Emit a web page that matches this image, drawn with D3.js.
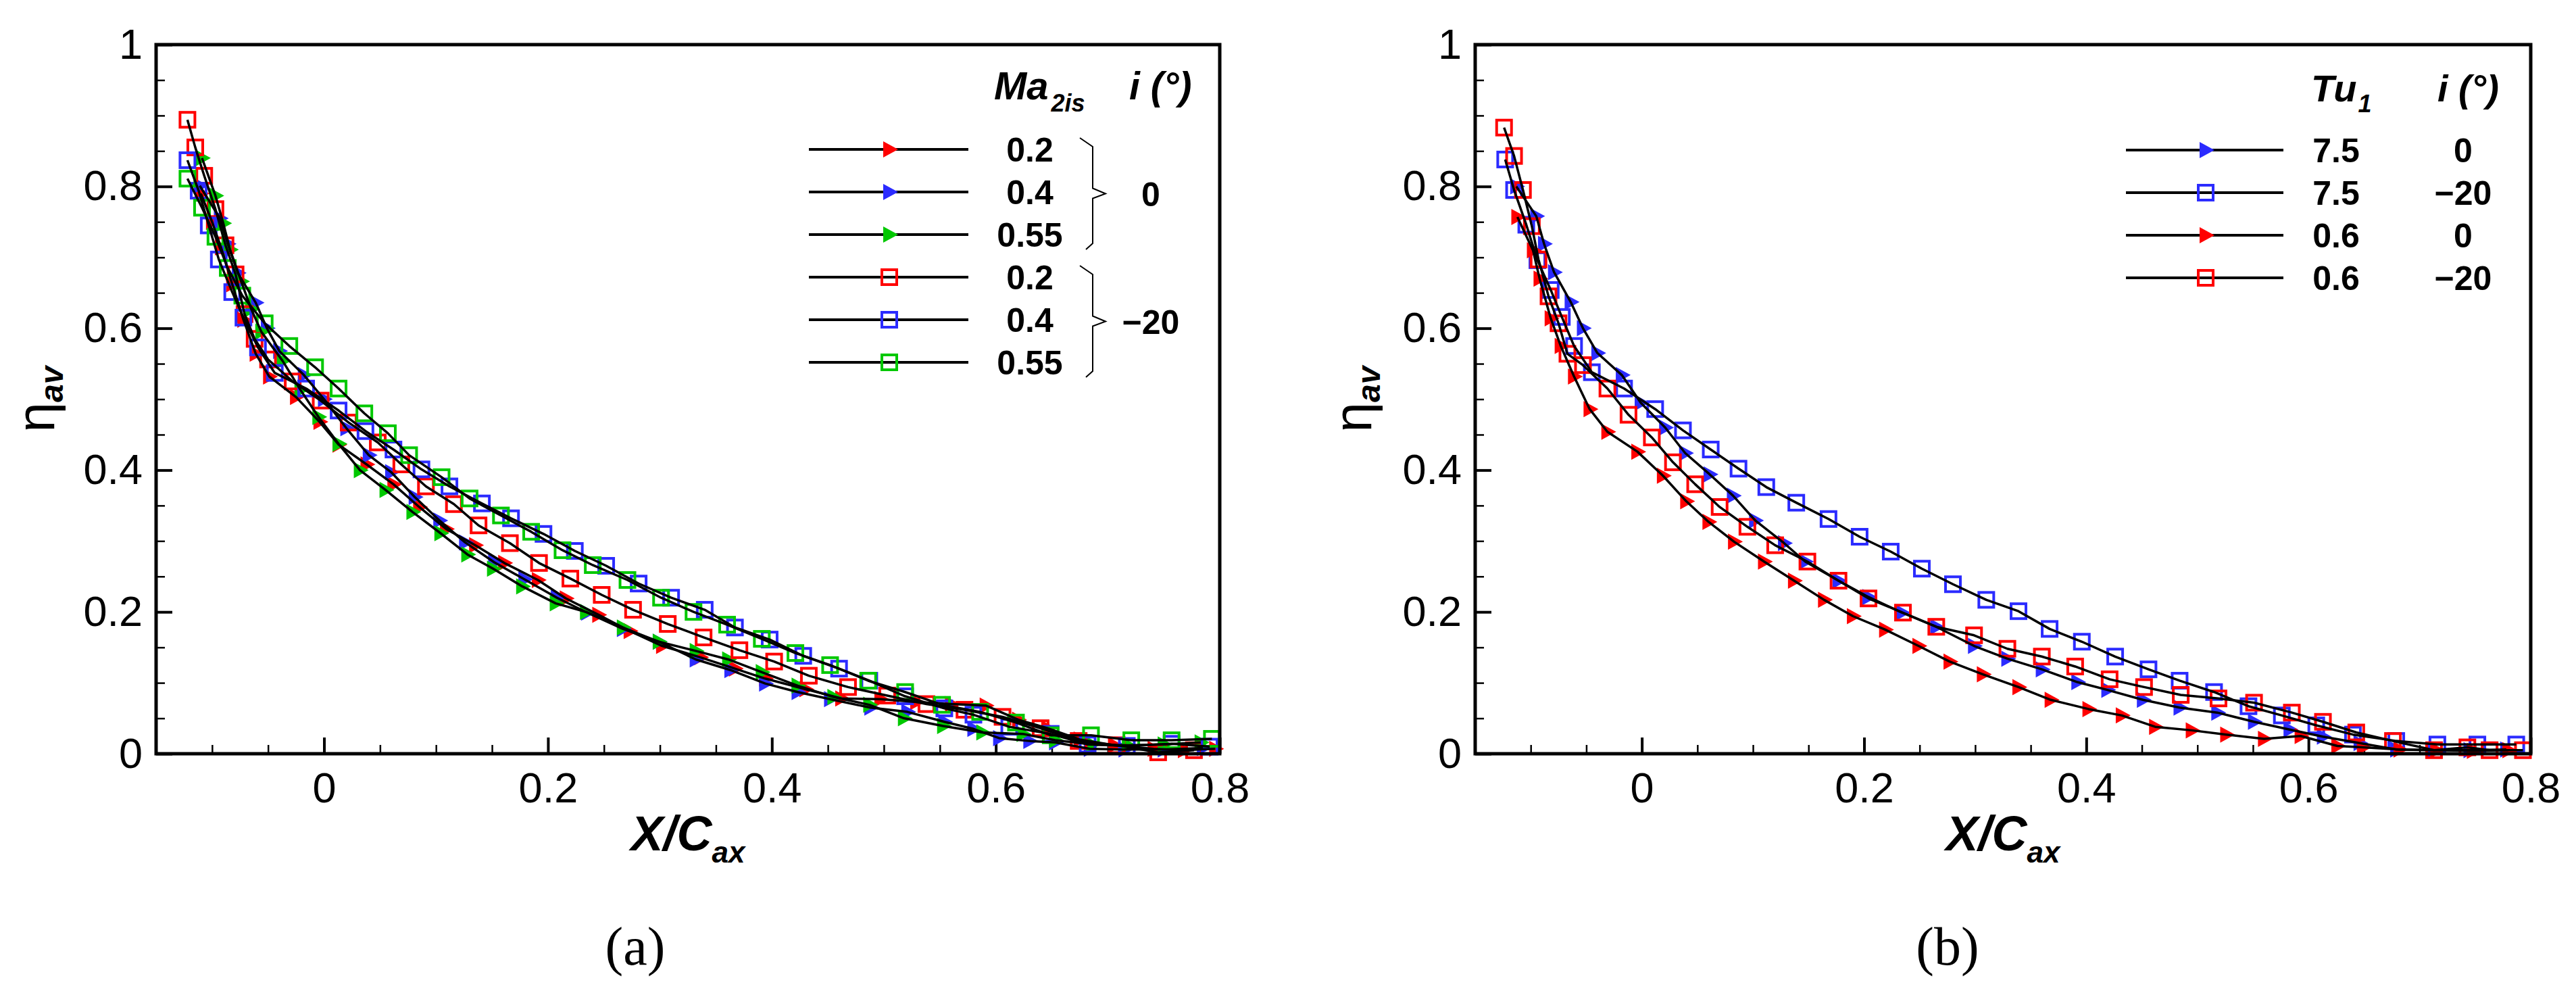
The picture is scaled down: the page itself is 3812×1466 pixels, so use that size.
<!DOCTYPE html>
<html>
<head>
<meta charset="utf-8">
<script src="https://cdn.jsdelivr.net/npm/d3@7"></script>
<style>
  body { margin: 0; background: #fff; }
  svg { display: block; }
  text { font-family: "Liberation Sans", Arial, sans-serif; fill: #000; }
</style>
</head>
<body>
<div id="chart"></div>
<script>
// ---- panel (a): Ma2is, i = 0 (triangles) and i = -20 (squares)
const aTri02X = [-0.110,-0.100,-0.092,-0.082,-0.072,-0.061,-0.049,-0.025,-0.004,0.013,0.038,0.062,0.085,0.109,0.135,0.161,0.191,0.216,0.245,0.273,0.302,0.336,0.367,0.394,0.430,0.462,0.497,0.529,0.560,0.591,0.620,0.646,0.675,0.706,0.741,0.768,0.796];
const aTri02Y = [0.790,0.750,0.714,0.662,0.612,0.564,0.532,0.503,0.468,0.436,0.408,0.380,0.348,0.317,0.294,0.269,0.245,0.219,0.196,0.173,0.152,0.136,0.120,0.106,0.091,0.078,0.077,0.073,0.070,0.068,0.048,0.036,0.020,0.012,0.007,0.005,0.007];
const aTri04X = [-0.111,-0.093,-0.086,-0.077,-0.061,-0.051,-0.040,-0.018,0.000,0.020,0.040,0.060,0.081,0.103,0.126,0.152,0.179,0.208,0.235,0.267,0.299,0.332,0.363,0.394,0.423,0.452,0.488,0.521,0.554,0.580,0.603,0.630,0.653,0.684,0.715,0.750,0.785];
const aTri04Y = [0.801,0.755,0.719,0.678,0.636,0.600,0.568,0.534,0.500,0.459,0.421,0.397,0.362,0.329,0.298,0.270,0.246,0.220,0.199,0.176,0.158,0.133,0.118,0.099,0.087,0.077,0.065,0.059,0.045,0.035,0.022,0.018,0.016,0.007,0.006,0.006,0.008];
const aTri055X = [-0.109,-0.097,-0.090,-0.084,-0.074,-0.065,-0.056,-0.037,-0.021,-0.005,0.013,0.032,0.055,0.079,0.104,0.128,0.151,0.177,0.207,0.234,0.267,0.299,0.332,0.361,0.391,0.423,0.455,0.487,0.518,0.553,0.588,0.624,0.653,0.686,0.718,0.750,0.783];
const aTri055Y = [0.840,0.787,0.748,0.711,0.666,0.627,0.595,0.554,0.513,0.475,0.437,0.400,0.372,0.341,0.311,0.281,0.261,0.236,0.212,0.200,0.178,0.158,0.145,0.133,0.115,0.096,0.080,0.069,0.050,0.039,0.030,0.028,0.019,0.013,0.012,0.013,0.016];
const aSq02X = [-0.122,-0.115,-0.107,-0.097,-0.088,-0.079,-0.071,-0.062,-0.050,-0.028,-0.003,0.022,0.048,0.069,0.091,0.116,0.138,0.166,0.192,0.220,0.248,0.276,0.307,0.339,0.371,0.402,0.433,0.468,0.503,0.538,0.572,0.606,0.640,0.674,0.708,0.745,0.777];
const aSq02Y = [0.894,0.855,0.815,0.768,0.717,0.676,0.620,0.585,0.556,0.525,0.498,0.467,0.439,0.408,0.377,0.352,0.322,0.297,0.269,0.247,0.224,0.203,0.183,0.164,0.146,0.130,0.110,0.094,0.082,0.070,0.062,0.052,0.036,0.018,0.012,0.002,0.005];
const aSq04X = [-0.122,-0.112,-0.103,-0.094,-0.082,-0.072,-0.059,-0.044,-0.016,0.013,0.037,0.062,0.087,0.112,0.141,0.167,0.196,0.224,0.252,0.281,0.310,0.340,0.367,0.398,0.428,0.460,0.487,0.519,0.554,0.580,0.612,0.649,0.682,0.717,0.757,0.791];
const aSq04Y = [0.837,0.794,0.745,0.697,0.651,0.615,0.573,0.537,0.515,0.484,0.455,0.429,0.401,0.377,0.353,0.332,0.310,0.286,0.265,0.240,0.220,0.203,0.178,0.161,0.138,0.120,0.103,0.081,0.064,0.055,0.038,0.028,0.013,0.011,0.014,0.010];
const aSq055X = [-0.122,-0.109,-0.097,-0.086,-0.073,-0.053,-0.031,-0.008,0.013,0.036,0.057,0.076,0.105,0.130,0.158,0.185,0.213,0.240,0.271,0.301,0.330,0.360,0.391,0.421,0.452,0.486,0.519,0.552,0.586,0.618,0.649,0.685,0.721,0.757,0.793];
const aSq055Y = [0.811,0.770,0.729,0.685,0.646,0.607,0.575,0.545,0.515,0.480,0.452,0.421,0.390,0.360,0.336,0.313,0.287,0.266,0.245,0.220,0.200,0.182,0.162,0.142,0.125,0.103,0.087,0.069,0.059,0.044,0.026,0.026,0.019,0.019,0.021];

// ---- panel (b): Tu1, i = 0 (triangles) and i = -20 (squares)
const bTri75X = [-0.113,-0.095,-0.088,-0.079,-0.064,-0.053,-0.040,-0.018,-0.001,0.021,0.039,0.061,0.082,0.102,0.128,0.147,0.177,0.204,0.234,0.265,0.299,0.329,0.360,0.392,0.419,0.451,0.484,0.518,0.551,0.583,0.613,0.646,0.679,0.712,0.745,0.778];
const bTri75Y = [0.800,0.758,0.719,0.679,0.637,0.600,0.565,0.534,0.495,0.460,0.424,0.394,0.364,0.329,0.297,0.271,0.244,0.221,0.199,0.179,0.152,0.134,0.119,0.101,0.090,0.076,0.065,0.058,0.045,0.034,0.024,0.015,0.006,0.005,0.005,0.006];
const bSq75X = [-0.123,-0.115,-0.104,-0.094,-0.082,-0.072,-0.061,-0.045,-0.016,0.012,0.037,0.062,0.087,0.112,0.139,0.168,0.196,0.224,0.252,0.280,0.310,0.339,0.367,0.396,0.426,0.456,0.484,0.515,0.546,0.576,0.607,0.640,0.679,0.716,0.752,0.787];
const bSq75Y = [0.838,0.795,0.746,0.696,0.654,0.616,0.575,0.538,0.515,0.486,0.456,0.429,0.402,0.376,0.354,0.331,0.306,0.285,0.261,0.239,0.217,0.201,0.176,0.158,0.137,0.119,0.103,0.087,0.067,0.054,0.040,0.027,0.018,0.013,0.013,0.013];
const bTri06X = [-0.112,-0.098,-0.092,-0.082,-0.073,-0.061,-0.047,-0.031,-0.004,0.019,0.040,0.060,0.083,0.110,0.137,0.164,0.190,0.219,0.249,0.277,0.307,0.339,0.368,0.402,0.432,0.462,0.495,0.526,0.560,0.593,0.626,0.649,0.682,0.715,0.748,0.780];
const bTri06Y = [0.757,0.710,0.670,0.614,0.575,0.532,0.486,0.454,0.426,0.392,0.356,0.327,0.299,0.271,0.244,0.217,0.194,0.175,0.152,0.130,0.112,0.094,0.076,0.063,0.054,0.038,0.033,0.027,0.021,0.025,0.011,0.009,0.006,0.005,0.004,0.005];
const bSq06X = [-0.124,-0.115,-0.107,-0.099,-0.093,-0.084,-0.075,-0.067,-0.053,-0.031,-0.012,0.009,0.028,0.048,0.070,0.095,0.120,0.149,0.177,0.204,0.235,0.265,0.299,0.329,0.360,0.390,0.421,0.452,0.485,0.519,0.551,0.585,0.613,0.643,0.676,0.713,0.743,0.763,0.793];
const bSq06Y = [0.883,0.843,0.795,0.744,0.697,0.645,0.607,0.564,0.548,0.515,0.478,0.446,0.411,0.380,0.348,0.320,0.294,0.271,0.244,0.219,0.199,0.179,0.167,0.148,0.137,0.123,0.105,0.094,0.083,0.078,0.072,0.058,0.045,0.030,0.018,0.005,0.009,0.005,0.005];

// ticks and legend labels
const xMajor = [0, 0.2, 0.4, 0.6, 0.8];
const xMinor = [-0.1, -0.05, 0.05, 0.1, 0.15, 0.25, 0.3, 0.35, 0.45, 0.5, 0.55, 0.65, 0.7, 0.75];
const yMajor = [0, 0.2, 0.4, 0.6, 0.8, 1];
const yMinor = [0.05, 0.1, 0.15, 0.25, 0.3, 0.35, 0.45, 0.5, 0.55, 0.65, 0.7, 0.75, 0.85, 0.9, 0.95];
const maLabels = ["0.2", "0.4", "0.55", "0.2", "0.4", "0.55"];
const incGroups = ["0", "\u221220"];
const tuLabels = ["7.5", "7.5", "0.6", "0.6"];
const tuInc = ["0", "\u221220", "0", "\u221220"];

const RED = "#ff0000", BLUE = "#2b2bff", GREEN = "#00c800";

const seriesA = [
  {xs: aTri02X, ys: aTri02Y, color: RED, shape: "tri"},
  {xs: aTri04X, ys: aTri04Y, color: BLUE, shape: "tri"},
  {xs: aTri055X, ys: aTri055Y, color: GREEN, shape: "tri"},
  {xs: aSq02X, ys: aSq02Y, color: RED, shape: "sq"},
  {xs: aSq04X, ys: aSq04Y, color: BLUE, shape: "sq"},
  {xs: aSq055X, ys: aSq055Y, color: GREEN, shape: "sq"}
];
const seriesB = [
  {xs: bTri75X, ys: bTri75Y, color: BLUE, shape: "tri"},
  {xs: bSq75X, ys: bSq75Y, color: BLUE, shape: "sq"},
  {xs: bTri06X, ys: bTri06Y, color: RED, shape: "tri"},
  {xs: bSq06X, ys: bSq06Y, color: RED, shape: "sq"}
];

const width = 3812, height = 1466;
const svg = d3.select("#chart").append("svg")
  .attr("width", width)
  .attr("height", height);

const triPath = "M-9,-12L13,0L-9,12Z";

function drawMarker(sel, shape, color) {
  if (shape === "tri") {
    sel.append("path").attr("d", triPath).attr("fill", color);
  } else {
    sel.append("rect")
      .attr("x", -11).attr("y", -11)
      .attr("width", 22).attr("height", 22)
      .attr("fill", "none")
      .attr("stroke", color)
      .attr("stroke-width", 4);
  }
}

function styleAxis(g, size) {
  g.select(".domain").remove();
  g.selectAll(".tick line").attr("stroke", "#000").attr("stroke-width", size);
  g.selectAll(".tick text").attr("font-size", 63).attr("fill", "#000");
}

const fmt = d => String(+d.toFixed(2));

function drawPanel(p) {
  let x = d3.scaleLinear().domain([-0.15, 0.8]).range([p.left, p.right]);
  let y = d3.scaleLinear().domain([0, 1]).range([p.bottom, p.top]);
  let g = svg.append("g");

  // ticks, pointing inward
  g.append("g").attr("transform", `translate(0,${p.bottom})`)
    .call(d3.axisBottom(x).tickValues(xMinor).tickSize(-13).tickFormat(""))
    .call(a => styleAxis(a, 2.5));
  g.append("g").attr("transform", `translate(0,${p.bottom})`)
    .call(d3.axisBottom(x).tickValues(xMajor).tickSize(-24).tickPadding(27).tickFormat(fmt))
    .call(a => styleAxis(a, 4));
  g.append("g").attr("transform", `translate(${p.left},0)`)
    .call(d3.axisLeft(y).tickValues(yMinor).tickSize(-13).tickFormat(""))
    .call(a => styleAxis(a, 2.5));
  g.append("g").attr("transform", `translate(${p.left},0)`)
    .call(d3.axisLeft(y).tickValues(yMajor).tickSize(-24).tickPadding(20).tickFormat(fmt))
    .call(a => styleAxis(a, 4));

  // markers under the lines
  p.series.forEach(s => {
    let pts = d3.zip(s.xs, s.ys);
    g.append("g").selectAll("g")
      .data(pts)
      .enter().append("g")
      .attr("transform", d => `translate(${x(d[0])},${y(d[1])})`)
      .each(function() { drawMarker(d3.select(this), s.shape, s.color); });
  });

  let line = d3.line().x(d => x(d[0])).y(d => y(d[1]));
  p.series.forEach(s => {
    g.append("path")
      .attr("d", line(d3.zip(s.xs, s.ys)))
      .attr("fill", "none")
      .attr("stroke", "#000")
      .attr("stroke-width", 3.5)
      .attr("stroke-linejoin", "round");
  });

  // frame
  g.append("rect")
    .attr("x", p.left).attr("y", p.top)
    .attr("width", p.right - p.left).attr("height", p.bottom - p.top)
    .attr("fill", "none").attr("stroke", "#000").attr("stroke-width", 5);

  // axis titles
  let xt = g.append("text")
    .attr("x", (p.left + p.right) / 2).attr("y", 1258)
    .attr("text-anchor", "middle")
    .attr("font-weight", "bold").attr("font-style", "italic");
  xt.append("tspan").attr("font-size", 72).text("X/C");
  xt.append("tspan").attr("font-size", 44).attr("dy", 18).text("ax");

  let yt = g.append("text")
    .attr("transform", `translate(${p.yTitleX},${(p.top + p.bottom) / 2}) rotate(-90)`)
    .attr("text-anchor", "middle");
  yt.append("tspan").attr("font-size", 80).text("\u03b7");
  yt.append("tspan").attr("font-size", 48).attr("dy", 13)
    .attr("font-weight", "bold").attr("font-style", "italic").text("av");

  g.append("text")
    .attr("x", p.capX).attr("y", 1427)
    .attr("text-anchor", "middle")
    .style("font-family", "'Liberation Serif', 'Times New Roman', serif")
    .attr("font-size", 80)
    .text(p.caption);

  return g;
}

function brace(g, bx, yTop, yBot) {
  let ym = (yTop + yBot) / 2;
  g.append("path")
    .attr("d", `M${bx - 19},${yTop} L${bx},${yTop + 13} L${bx},${ym - 8} L${bx + 19},${ym} L${bx},${ym + 7} L${bx},${yBot - 9} L${bx - 10},${yBot}`)
    .attr("fill", "none").attr("stroke", "#000").attr("stroke-width", 2);
}

function legendRow(g, x0, x1, xm, yRow, s) {
  g.append("line")
    .attr("x1", x0).attr("x2", x1).attr("y1", yRow).attr("y2", yRow)
    .attr("stroke", "#000").attr("stroke-width", 4);
  let m = g.append("g").attr("transform", `translate(${xm},${yRow})`);
  drawMarker(m, s.shape, s.color);
}

// panel (a)
let ga = drawPanel({left: 231, right: 1805, top: 66, bottom: 1115, series: seriesA,
  yTitleX: 80, capX: 940, caption: "(a)"});

let ha = ga.append("text").attr("x", 1471).attr("y", 147)
  .attr("font-weight", "bold").attr("font-style", "italic");
ha.append("tspan").attr("font-size", 58).text("Ma");
ha.append("tspan").attr("font-size", 36).attr("dy", 18).attr("dx", 4).text("2is");
ga.append("text").attr("x", 1671).attr("y", 147)
  .attr("font-weight", "bold").attr("font-style", "italic").attr("font-size", 57)
  .text("i (\u00b0)");

seriesA.forEach((s, i) => {
  let yr = 221 + i * 63;
  legendRow(ga, 1197, 1433, 1316, yr, s);
  ga.append("text").attr("x", 1524).attr("y", yr + 18)
    .attr("text-anchor", "middle").attr("font-weight", "bold").attr("font-size", 50)
    .text(maLabels[i]);
});
incGroups.forEach((lab, k) => {
  let yTop = 221 + k * 189 - 17, yBot = 221 + (k * 3 + 2) * 63 + 22;
  brace(ga, 1617, yTop, yBot);
  ga.append("text").attr("x", 1703).attr("y", (yTop + yBot) / 2 + 18)
    .attr("text-anchor", "middle").attr("font-weight", "bold").attr("font-size", 50)
    .text(lab);
});

// panel (b)
let gb = drawPanel({left: 2183, right: 3745, top: 66, bottom: 1115, series: seriesB,
  yTitleX: 2029, capX: 2882, caption: "(b)"});

let hb = gb.append("text").attr("x", 3420).attr("y", 150)
  .attr("font-weight", "bold").attr("font-style", "italic");
hb.append("tspan").attr("font-size", 56).text("Tu");
hb.append("tspan").attr("font-size", 36).attr("dy", 16).attr("dx", 2).text("1");
gb.append("text").attr("x", 3607).attr("y", 150)
  .attr("font-weight", "bold").attr("font-style", "italic").attr("font-size", 56)
  .text("i (\u00b0)");

seriesB.forEach((s, i) => {
  let yr = 222 + i * 63;
  legendRow(gb, 3146, 3379, 3264, yr, s);
  gb.append("text").attr("x", 3457).attr("y", yr + 18)
    .attr("text-anchor", "middle").attr("font-weight", "bold").attr("font-size", 50)
    .text(tuLabels[i]);
  gb.append("text").attr("x", 3645).attr("y", yr + 18)
    .attr("text-anchor", "middle").attr("font-weight", "bold").attr("font-size", 50)
    .text(tuInc[i]);
});
</script>
</body>
</html>
